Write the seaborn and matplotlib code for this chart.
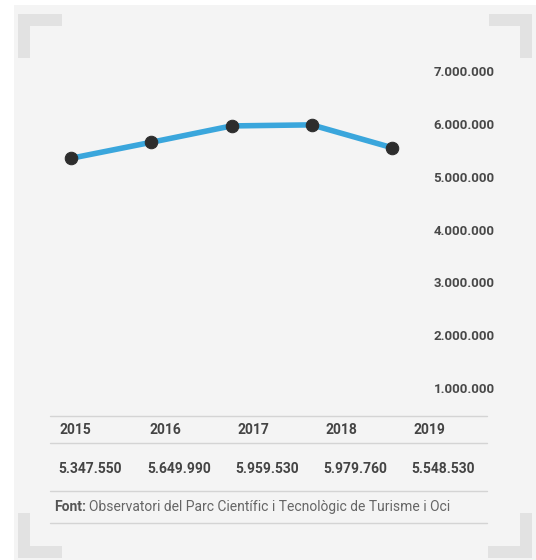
import matplotlib
matplotlib.use("Agg")
import matplotlib.pyplot as plt
import seaborn as sns
import pandas as pd
from matplotlib.patches import Rectangle, Polygon
from matplotlib.lines import Line2D

years = ["2015", "2016", "2017", "2018", "2019"]
visitors = [5347550, 5649990, 5959530, 5979760, 5548530]
value_labels = ["5.347.550", "5.649.990", "5.959.530", "5.979.760", "5.548.530"]
y_ticks = [1000000, 2000000, 3000000, 4000000, 5000000, 6000000, 7000000]
y_tick_labels = ["1.000.000", "2.000.000", "3.000.000", "4.000.000",
                 "5.000.000", "6.000.000", "7.000.000"]
source_bold = "Font:"
source_text = "Observatori del Parc Científic i Tecnològic de Turisme i Oci"

sns.set_theme(style="white")
plt.rcParams["font.family"] = ["Roboto", "DejaVu Sans"]

W, H = 536, 560
fig = plt.figure(figsize=(W / 100, H / 100), dpi=100, facecolor="white")

def fx(px):
    return px / W

def fy(py):
    return 1 - py / H

# panel background
fig.patches.append(Rectangle((fx(14), 0), 1 - fx(14), fy(5), transform=fig.transFigure,
                             facecolor="#f4f4f4", edgecolor="none", zorder=-3))
# corner brackets
bc = "#e2e2e2"
t = 12
def bracket(pts):
    fig.patches.append(Polygon([(fx(x), fy(y)) for x, y in pts], closed=True,
                               transform=fig.transFigure, facecolor=bc,
                               edgecolor="none", zorder=-2))
bracket([(18, 14), (62, 14), (62, 14 + t), (18 + t, 14 + t), (18 + t, 58), (18, 58)])
bracket([(532, 14), (489, 14), (489, 14 + t), (532 - t, 14 + t), (532 - t, 58), (532, 58)])
bracket([(18, 558), (62, 558), (62, 558 - t), (18 + t, 558 - t), (18 + t, 513), (18, 513)])
bracket([(532, 558), (488, 558), (488, 558 - t), (532 - t, 558 - t), (532 - t, 513), (532, 513)])

# axes: x 31..432 px, y 44.5..414.5 px
ax = fig.add_axes([fx(31), fy(414.5), fx(432) - fx(31), fy(44.5) - fy(414.5)])
ax.set_zorder(1)
ax.set_facecolor("none")
ax.patch.set_alpha(0)
df = pd.DataFrame({"x": range(len(years)), "v": visitors})
sns.lineplot(data=df, x="x", y="v", ax=ax, color="#3aa6dc", linewidth=4,
             marker="o", markersize=9, markerfacecolor="#2d2d2d",
             markeredgecolor="#2d2d2d", zorder=3)
ax.set_xlim(-0.5, 4.5)
ax.set_ylim(500000, 7500000)
ax.set_xticks([])
ax.set_yticks(y_ticks)
ax.set_yticklabels(y_tick_labels)
ax.yaxis.tick_right()
ax.tick_params(axis="y", length=0, pad=1, labelsize=9.5, labelcolor="#484848")
for lab in ax.get_yticklabels():
    lab.set_fontweight("bold")
ax.set_xlabel("")
ax.set_ylabel("")
for s in ax.spines.values():
    s.set_visible(False)

# table
line_c = "#d4d4d4"
for py in [416, 443, 491, 523]:
    fig.add_artist(Line2D([fx(50), fx(487)], [fy(py), fy(py)], transform=fig.transFigure,
                          color=line_c, linewidth=1))
year_x = [60, 149, 237, 325, 413]
val_x = [58, 147, 235, 323, 411]
for i in range(len(years)):
    fig.text(fx(year_x[i]), fy(430), years[i], ha="left", va="center", fontsize=10,
             fontweight="bold", color="#444444")
    fig.text(fx(val_x[i]), fy(469), value_labels[i], ha="left", va="center", fontsize=10,
             fontweight="bold", color="#444444")
tb = fig.text(fx(54), fy(507), source_bold, ha="left", va="center", fontsize=10,
              fontweight="bold", color="#555555")
fig.canvas.draw()
bb = tb.get_window_extent()
fig.text(bb.x1 / W + fx(3), fy(507), source_text, ha="left", va="center", fontsize=10,
         color="#666666")

fig.savefig("out.png", dpi=100, facecolor="white")
